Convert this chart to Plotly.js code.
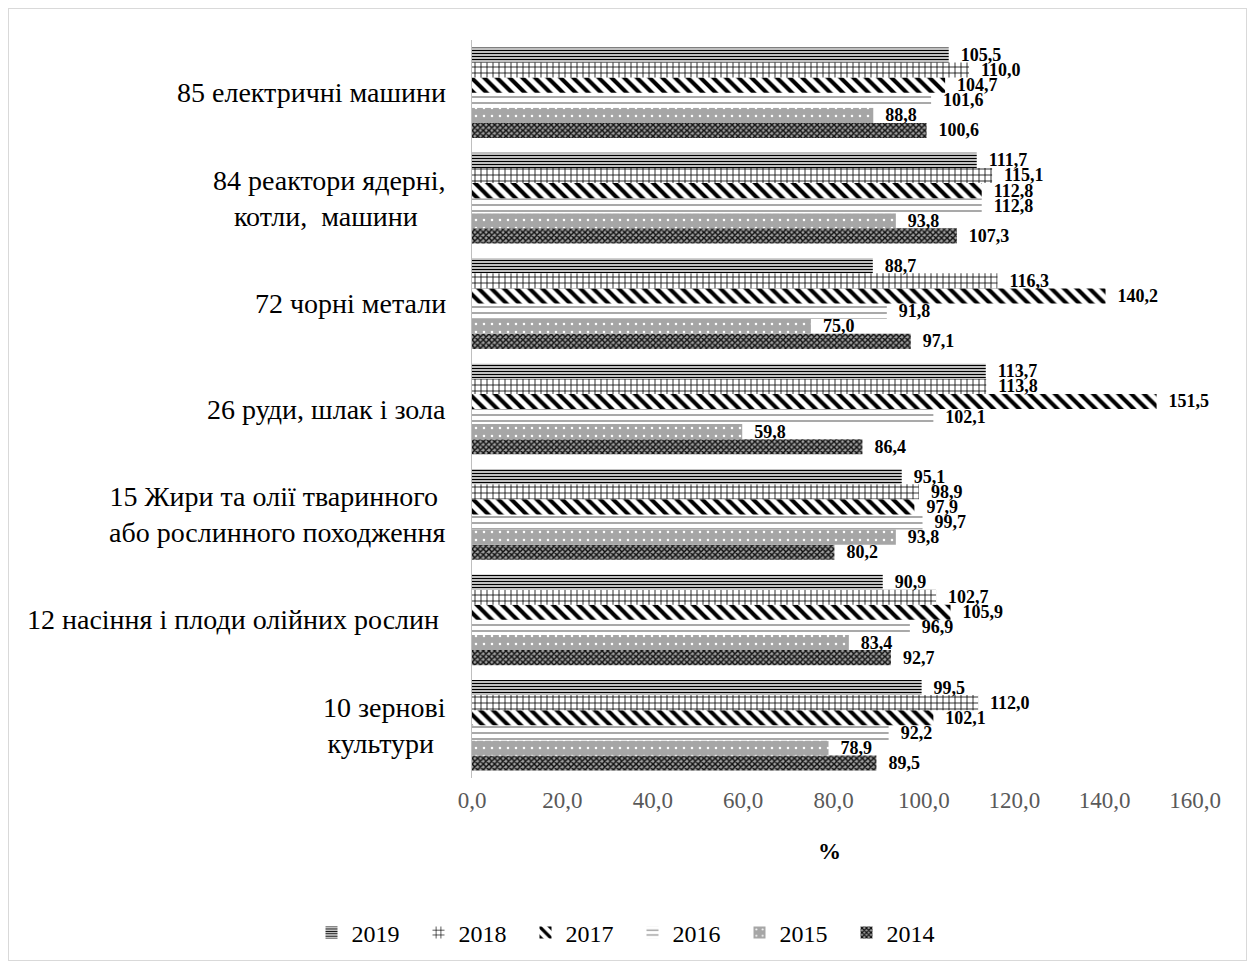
<!DOCTYPE html>
<html>
<head>
<meta charset="utf-8">
<script src="https://cdn.plot.ly/plotly-3.0.1.min.js"></script>
<style>
html,body{margin:0;padding:0;background:#fff;}
#chart{position:absolute;left:0;top:0;width:1254px;height:969px;}
#frame{position:absolute;left:8px;top:8px;width:1237px;height:951px;border:1px solid #d9d9d9;pointer-events:none;}
</style>
</head>
<body>
<div id="chart"></div>
<div id="frame"></div>
<script>
// Categories, bottom to top as drawn
const categories = [
  "10 зернові<br>культури ",
  "12 насіння і плоди олійних рослин ",
  "15 Жири та олії тваринного <br>або рослинного походження",
  "26 руди, шлак і зола",
  "72 чорні метали",
  "84 реактори ядерні,<br>котли,  машини ",
  "85 електричні машини"
];
const years = ["2014", "2015", "2016", "2017", "2018", "2019"];
const v2014 = [89.5, 92.7, 80.2, 86.4, 97.1, 107.3, 100.6];
const v2015 = [78.9, 83.4, 93.8, 59.8, 75.0, 93.8, 88.8];
const v2016 = [92.2, 96.9, 99.7, 102.1, 91.8, 112.8, 101.6];
const v2017 = [102.1, 105.9, 97.9, 151.5, 140.2, 112.8, 104.7];
const v2018 = [112.0, 102.7, 98.9, 113.8, 116.3, 115.1, 110.0];
const v2019 = [99.5, 90.9, 95.1, 113.7, 88.7, 111.7, 105.5];
const xTickVals = [0, 20, 40, 60, 80, 100, 120, 140, 160];
const axisTitle = "%";

const seriesValues = [v2014, v2015, v2016, v2017, v2018, v2019];
const markers = [
  {color: "#ffffff", pattern: {shape: "x", fgcolor: "#111111", bgcolor: "#a0a0a0", size: 4, solidity: 0.6}},
  {color: "#a6a6a6", pattern: {shape: ".", fgcolor: "#ffffff", bgcolor: "#a6a6a6", size: 8, solidity: 0.08}},
  {color: "#ffffff", pattern: {shape: "-", fgcolor: "#8c8c8c", bgcolor: "#ffffff", size: 6, solidity: 0.25}},
  {color: "#ffffff", pattern: {shape: "\\", fgcolor: "#000000", bgcolor: "#ffffff", size: 9, solidity: 0.45}},
  {color: "#ffffff", pattern: {shape: "+", fgcolor: "#000000", bgcolor: "#ffffff", size: 6, solidity: 0.25}},
  {color: "#ffffff", pattern: {shape: "-", fgcolor: "#000000", bgcolor: "#ffffff", size: 3, solidity: 0.5}}
];

const traces = years.map((y, i) => ({
  type: "bar",
  orientation: "h",
  name: y,
  y: categories,
  x: seriesValues[i],
  marker: Object.assign({line: {width: 0}}, markers[i]),
  texttemplate: "\u00a0\u00a0%{x:.1f}",
  textposition: "outside",
  constraintext: "none",
  cliponaxis: false,
  textfont: {family: "Liberation Serif", size: 18, color: "#000000", weight: "bold"},
  hoverinfo: "x+name"
}));

const annotations = categories.map((c) => ({
  xref: "paper", yref: "y", x: 0, y: c, xshift: -24,
  xanchor: "right", yanchor: "middle", align: "center",
  text: c, showarrow: false,
  font: {family: "Liberation Serif", size: 28, color: "#000000"}
}));
annotations.push({
  xref: "paper", yref: "paper", x: 0.495, y: -0.1,
  xanchor: "center", yanchor: "middle", text: axisTitle, showarrow: false,
  font: {family: "Liberation Serif", size: 23, color: "#000000", weight: "bold"}
});

const layout = {
  width: 1254, height: 969,
  margin: {l: 472, r: 59, t: 40, b: 191},
  paper_bgcolor: "#ffffff", plot_bgcolor: "#ffffff",
  separators: ", ",
  barmode: "group",
  bargap: 0.14,
  bargroupgap: 0,
  showlegend: true,
  legend: {
    orientation: "h", traceorder: "reversed",
    x: 0.222, xanchor: "center", y: -0.21, yanchor: "middle",
    font: {family: "Liberation Serif", size: 24, color: "#000000"},
    itemwidth: 30, entrywidth: 62, entrywidthmode: "pixels"
  },
  xaxis: {
    range: [0, 160], tickvals: xTickVals, tickformat: ".1f",
    showgrid: false, zeroline: false, showline: false, ticks: "",
    ticklabelstandoff: 6,
    tickfont: {family: "Liberation Serif", size: 23, color: "#595959"}
  },
  yaxis: {
    type: "category", categoryorder: "array", categoryarray: categories,
    range: [-0.5, 6.5],
    showticklabels: false, showgrid: false, zeroline: false,
    showline: true, linecolor: "#bfbfbf", linewidth: 1, ticks: ""
  },
  annotations: annotations
};

Plotly.newPlot("chart", traces, layout, {displayModeBar: false, staticPlot: true});
</script>
</body>
</html>
